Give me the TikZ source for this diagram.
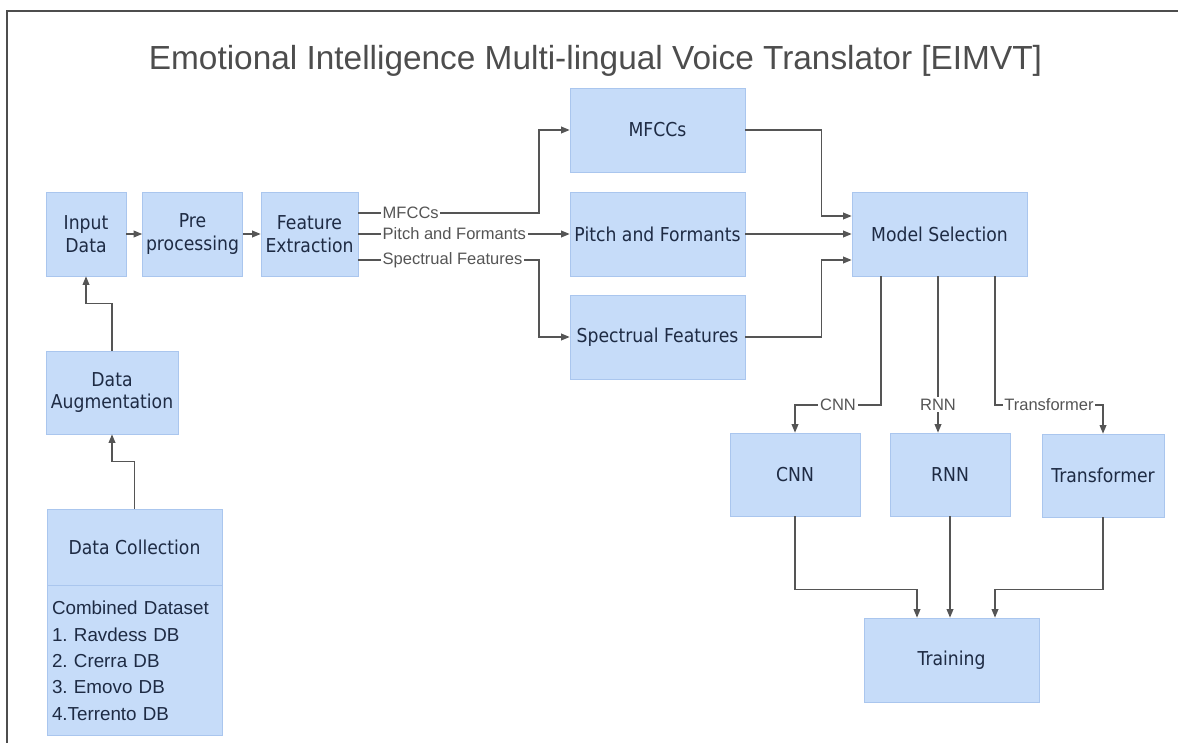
\documentclass[tikz,border=0pt]{standalone}
\usepackage{fontspec}
\setmainfont{Liberation Sans}
\newfontfamily\boxfont[FakeStretch=0.9]{DejaVu Sans}
\usetikzlibrary{arrows.meta,positioning}

\definecolor{boxfill}{HTML}{C6DCF9}
\definecolor{boxline}{HTML}{AAC6EE}
\definecolor{boxtext}{HTML}{1E2B44}
\definecolor{linkgray}{HTML}{555555}
\definecolor{titlegray}{HTML}{4D4D4D}
\frenchspacing

\begin{document}
\begin{tikzpicture}[
box/.style={draw=boxline, fill=boxfill, rectangle, align=center, text=boxtext, font=\boxfont\fontsize{10.9}{13}\selectfont, minimum height=1.68cm, inner sep=2pt},
tag/.style={fill=white, text=linkgray, font=\fontsize{9.4}{10}\selectfont, inner sep=1pt},
link/.style={-{Triangle[length=4.8pt,width=3.8pt]}, draw=linkgray, line width=0.7pt}
]

\useasboundingbox (0,0) rectangle (23.56,-14.84);
% frame
\draw[titlegray, line width=0.8pt] (0.14,-15) -- (0.14,-0.22) -- (23.7,-0.22);

\node (title) [anchor=base, text=titlegray, font=\fontsize{19}{22}\selectfont] at (11.91,-1.38) {Emotional Intelligence Multi-lingual Voice Translator [EIMVT]};

% input chain
\node (input) [box, minimum width=1.6cm] at (1.72,-4.68) {Input\\Data};
\node (preproc) [box, minimum width=1.98cm] at (3.85,-4.68) {Pre\\processing};
\node (featext) [box, minimum width=1.94cm] at (6.19,-4.68) {Feature\\Extraction};

% feature boxes
\node (mfcc) [box, minimum width=3.5cm] at (13.15,-2.60) {MFCCs};
\node (pitch) [box, minimum width=3.5cm] at (13.15,-4.68) {Pitch and Formants};
\node (spectral) [box, minimum width=3.5cm] at (13.15,-6.74) {Spectrual Features};

\node (modelsel) [box, minimum width=3.5cm] at (18.79,-4.68) {Model Selection};

% data side
\node (augment) [box, minimum width=2.64cm, minimum height=1.66cm] at (2.24,-7.85) {Data\\Augmentation};
\node (collect) [box, minimum width=3.5cm, minimum height=1.52cm] at (2.69,-10.94) {Data Collection};
\node (datasets) [box, below=0pt of collect, text width=3.3cm, inner xsep=0.1cm, align=left, minimum height=3cm, font=\fontsize{10.7}{15}\selectfont] {Combined Dataset\\1. Ravdess DB\\2. Crerra DB\\3. Emovo DB\\4.Terrento DB};

% models
\node (cnn) [box, minimum width=2.6cm, minimum height=1.66cm] at (15.9,-9.49) {CNN};
\node (rnn) [box, minimum width=2.4cm, minimum height=1.66cm] at (19.0,-9.49) {RNN};
\node (transformer) [box, minimum width=2.44cm, minimum height=1.66cm] at (22.06,-9.51) {Transformer};

\node (training) [box, minimum width=3.5cm] at (19.03,-13.2) {Training};

\draw[link] (collect.north) -- ++(0,0.94) -| (augment.south);
\draw[link] (augment.north) -- ++(0,0.94) -| (input.south);
\draw[link] (input) -- (preproc);
\draw[link] (preproc) -- (featext);

\draw[link] ([yshift=0.42cm]featext.east) -- node[tag, pos=0, anchor=west, xshift=0.44cm] {MFCCs} (10.78,-4.26) |- (mfcc.west);
\draw[link] (featext.east) -- node[tag, pos=0, anchor=west, xshift=0.44cm] {Pitch and Formants} (pitch.west);
\draw[link] ([yshift=-0.52cm]featext.east) -- node[tag, pos=0, anchor=west, xshift=0.44cm] {Spectrual Features} (10.78,-5.20) |- (spectral.west);

\draw[link] (mfcc.east) -- ++(1.52,0) |- ([yshift=0.36cm]modelsel.west);
\draw[link] (pitch) -- (modelsel);
\draw[link] (spectral.east) -- ++(1.52,0) |- ([yshift=-0.52cm]modelsel.west);

\draw[link] ([xshift=-1.17cm]modelsel.south) |- node[tag, pos=0.75] {CNN} (15.9,-8.10) -- (cnn.north);
\draw[link] ([xshift=-0.03cm]modelsel.south) -- node[tag, pos=0.82] {RNN} ([xshift=-0.03cm]modelsel.south |- rnn.north);
\draw[link] ([xshift=1.11cm]modelsel.south) |- node[tag, pos=0.75] {Transformer} (22.06,-8.10) -- (transformer.north);

\draw[link] (cnn.south) -- ++(0,-1.46) -| ([xshift=-0.69cm]training.north);
\draw[link] (rnn.south) -- (rnn.south |- training.north);
\draw[link] (transformer.south) -- ++(0,-1.44) -| ([xshift=0.87cm]training.north);

\end{tikzpicture}
\end{document}
